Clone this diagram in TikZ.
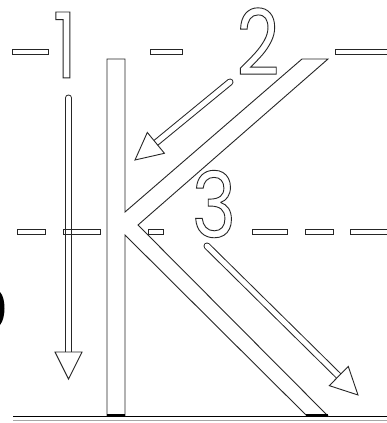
\documentclass[tikz,border=0pt]{standalone}
\usepackage{fontspec}
\newfontfamily\digitfont{Poppins}[FakeStretch=0.82]
\usetikzlibrary{calc}
\newcommand\outlinedtext[1]{\special{pdf:literal direct 1 Tr 0.9 w}#1\special{pdf:literal direct 0 Tr}}
\tikzset{
  ink/.style={draw=black!85, line width=0.9pt},
  outer/.style={black!85, line width=7pt, line cap=round},
  inner/.style={white, line width=5pt, line cap=round},
  dashbox/.style={ink, fill=white},
  digit/.style={inner sep=0pt, anchor=south, text=black!85, font=\digitfont\fontsize{91}{91}\selectfont}
}
\begin{document}
\begin{tikzpicture}[x=1pt,y=-1pt]
\useasboundingbox (0,0) rectangle (387,423);
\fill[white] (0,0) rectangle (387,423);
% left blob
\fill[black] (0,292) .. controls (6,298) and (6,318) .. (0,325) -- cycle;
% baseline
\draw[black, line width=1.6pt] (13,416.5) -- (387,416.5);
\draw[black!35, line width=0.6pt] (13,420.5) -- (387,420.5);
% top dashes
\foreach \a/\b in {12/48,150/182,335/390}
  \draw[dashbox] (\a,49.5) rectangle (\b,54.5);
% middle dashes
\foreach \a/\b in {17/45,148/163,252/287,305/333,350/390}
  \draw[dashbox] (\a,229.5) rectangle (\b,234.5);
% K letter
\draw[ink, fill=white, line join=miter]
  (107,59) -- (125,59) -- (125,212) -- (302,59) -- (328,59) -- (138,225)
  -- (328,416) -- (307,416) -- (125,235) -- (125,416) -- (107,416) -- cycle;
\draw[black, line width=3pt] (107,415.5) -- (125,415.5);
\draw[black, line width=3pt] (306,415.5) -- (328,415.5);
% arrows
\coordinate (s1) at (68.5,98);   \coordinate (t1) at (68.5,379);
\coordinate (s2) at (230,82);    \coordinate (t2) at (135,160);
\coordinate (s3) at (207,246);   \coordinate (t3) at (358,395);
\foreach \i in {1,2,3}{
  \coordinate (b\i) at ($(t\i)!27pt!(s\i)$);
  \draw[outer] (s\i) -- (b\i);
  \draw[inner] (s\i) -- (b\i);
  \draw[ink, fill=white, line join=miter]
    (t\i) -- ($(b\i)!13.5pt!90:(t\i)$) -- ($(b\i)!13.5pt!-90:(t\i)$) -- cycle;
}
% dash crossing arrow 1
\draw[ink] (63,229.5) rectangle (100,234.5);
% digits
\node[digit] (d1) at (65,78) {\outlinedtext{1}};
\node[digit] (d2) at (258,75) {\outlinedtext{2}};
\node[digit] (d3) at (214,238) {\outlinedtext{3}};
\end{tikzpicture}
\end{document}
